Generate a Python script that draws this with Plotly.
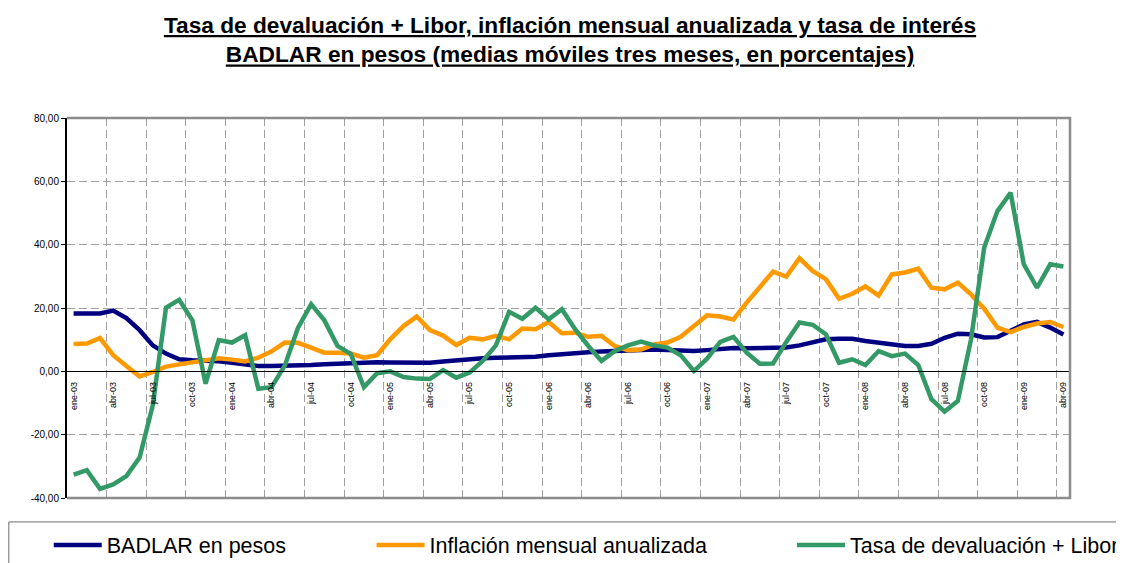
import plotly.graph_objects as go

months = ["ene", "feb", "mar", "abr", "may", "jun", "jul", "ago", "sep", "oct", "nov", "dic"]
years = ["03", "04", "05", "06", "07", "08", "09"]
categories = [f"{m}-{y}" for y in years for m in months][:76]  # ene-03 .. abr-09

badlar = [18.3, 18.3, 18.3, 19.2, 16.8, 13.0, 8.2, 5.6, 3.8, 3.5,
          3.5, 3.2, 2.7, 2.1, 1.7, 1.7, 1.7, 1.9, 2.0, 2.2,
          2.4, 2.7, 2.9, 2.9, 2.8, 2.7, 2.7, 2.7, 3.1, 3.5,
          3.9, 4.1, 4.3, 4.4, 4.4, 4.6, 5.1, 5.5, 5.8, 6.0,
          6.3, 6.4, 6.7, 6.9, 6.9, 6.7, 6.5, 6.4, 6.7, 7.2,
          7.4, 7.3, 7.3, 7.2, 7.5, 8.2, 9.3, 10.1, 10.3, 10.3,
          9.6, 9.1, 8.7, 8.0, 8.0, 8.7, 10.6, 11.9, 11.7, 10.7,
          10.8, 12.9, 14.8, 15.6, 13.8, 11.6]

inflacion = [8.6, 8.8, 10.5, 5.1, 1.7, -1.6, -0.2, 1.5, 2.2, 2.9,
             3.7, 4.1, 3.7, 3.1, 4.3, 6.3, 9.1, 9.0, 7.5, 5.9,
             5.9, 5.6, 4.3, 5.1, 10.2, 14.3, 17.3, 13.0, 11.3, 8.3,
             10.6, 10.1, 11.2, 10.1, 13.5, 13.3, 15.6, 12.0, 12.2, 10.9,
             11.2, 8.0, 6.7, 6.9, 8.5, 9.1, 10.9, 14.3, 17.7, 17.3,
             16.4, 21.7, 26.4, 31.5, 29.9, 35.7, 31.7, 29.1, 22.9, 24.5,
             26.8, 23.9, 30.6, 31.2, 32.4, 26.4, 25.9, 28.0, 24.3, 19.8,
             13.8, 12.4, 14.0, 15.1, 15.6, 14.0]

devaluacion = [-32.6, -31.2, -37.1, -35.7, -33.1, -27.2, -10.7, 20.1, 22.6, 16.1,
               -3.9, 9.9, 9.1, 11.4, -5.5, -5.0, 1.8, 13.7, 21.2, 16.1,
               8.0, 5.5, -5.0, -0.6, 0.0, -1.8, -2.3, -2.4, 0.4, -2.0,
               -0.4, 3.3, 8.2, 18.8, 16.6, 20.1, 16.4, 19.6, 13.3, 8.0,
               3.3, 6.4, 8.2, 9.4, 8.2, 7.5, 5.1, 0.1, 4.0, 9.3,
               10.9, 5.9, 2.4, 2.5, 9.3, 15.4, 14.7, 11.7, 2.7, 3.8,
               2.0, 6.4, 4.8, 5.6, 2.0, -8.8, -12.7, -9.4, 10.1, 39.1,
               50.6, 56.4, 33.8, 26.4, 33.8, 33.1]

series_names = ["BADLAR en pesos", "Inflación mensual anualizada", "Tasa de devaluación + Libor"]
series_colors = ["#000080", "#FF9900", "#339966"]

y_tickvals = [-40, -20, 0, 20, 40, 60, 80]
y_ticktext = [f"{v:,.2f}".replace(".", ",") for v in y_tickvals]

x = list(range(len(categories)))
label_idx = list(range(0, len(categories), 3))
boundary_vals = [i - 0.5 for i in range(3, len(categories) + 1, 3)]

fig = go.Figure()
legend_ids = ["legend", "legend2", "legend3"]
for name, vals, col, lg in zip(series_names, [badlar, inflacion, devaluacion], series_colors, legend_ids):
    fig.add_trace(go.Scatter(x=x, y=vals, mode="lines", name=name,
                             line=dict(color=col, width=4.5), legend=lg))

title_txt = ("<b><u>Tasa de devaluación + Libor, inflación mensual anualizada y tasa de interés</u></b><br>"
             "<b><u>BADLAR en pesos (medias móviles tres meses, en porcentajes)</u></b>")

legend_common = dict(orientation="h", yref="container", yanchor="middle", y=0.0324,
                     xref="container", xanchor="left",
                     font=dict(family="Liberation Sans, Arial, sans-serif", size=21.5, color="black"),
                     bgcolor="rgba(0,0,0,0)", itemwidth=48, tracegroupgap=0)

# page body has an 8px margin, so the figure is 8px smaller than the window
fig.update_layout(
    width=1116, height=555,
    margin=dict(l=59, r=54, t=110, b=65, autoexpand=False),
    paper_bgcolor="white", plot_bgcolor="white",
    font=dict(family="Liberation Sans, Arial, sans-serif", color="black"),
    title=dict(text=title_txt, x=0.5036, xanchor="center", y=0.955, yanchor="top",
               font=dict(family="Liberation Sans, Arial, sans-serif", size=22.7, color="black")),
    showlegend=True,
    legend=dict(legend_common, x=0.0365),
    legend2=dict(legend_common, x=0.3258),
    legend3=dict(legend_common, x=0.7025),
    xaxis=dict(range=[-0.5, len(categories) - 0.5], anchor="free", position=1/3,
               tickmode="array", tickvals=label_idx, ticktext=[categories[i] for i in label_idx],
               tickangle=-90, tickfont=dict(size=9, color="black"),
               ticks="", ticklabelstandoff=6,
               showline=True, linecolor="black", linewidth=1.2,
               showgrid=False, zeroline=False,
               minor=dict(tickmode="array", tickvals=boundary_vals, showgrid=True,
                          gridcolor="#a0a0a0", griddash="8px,4px", gridwidth=1, ticks="")),
    yaxis=dict(range=[-40, 80], tickmode="array", tickvals=y_tickvals, ticktext=y_ticktext,
               tickfont=dict(size=10, color="black"), ticks="outside", ticklen=4,
               tickcolor="black", showline=True, linecolor="black", linewidth=2,
               showgrid=True, gridcolor="#a0a0a0", griddash="8px,4px", gridwidth=1,
               zeroline=False),
    shapes=[
        dict(type="path", xref="paper", yref="paper", path="M 0,1 L 1,1 L 1,0 L 0,0",
             line=dict(color="#8c8c8c", width=2.5), layer="above"),
        dict(type="rect", xref="paper", yref="paper", x0=-0.058, x1=1.07, y0=-0.2, y1=-0.063,
             line=dict(color="#6e6e6e", width=1), fillcolor="rgba(0,0,0,0)", layer="above"),
    ],
)

fig.write_html("out.html")
